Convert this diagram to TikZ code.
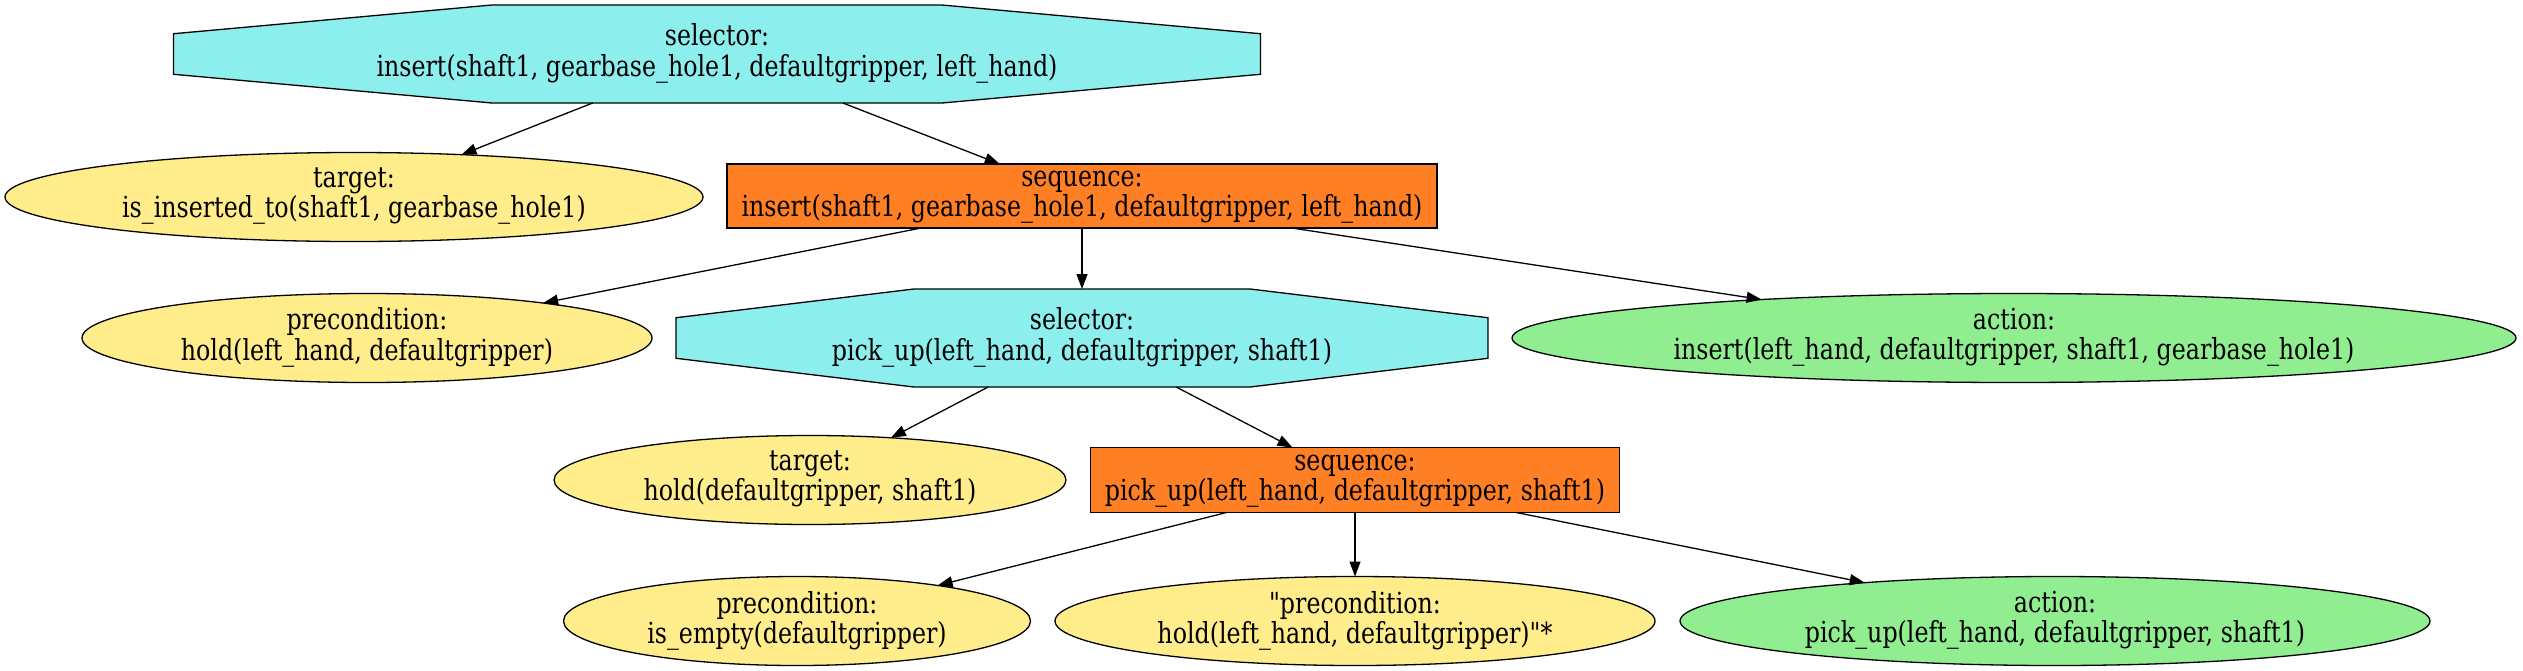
\documentclass[tikz,border=0pt]{standalone}
\usepackage{fontspec}
\setmainfont{DejaVu Serif}[Ligatures=TeXOff]
\usetikzlibrary{shapes.geometric,arrows.meta,calc,backgrounds}
\definecolor{selcol}{HTML}{8DEEEE}
\definecolor{seqcol}{HTML}{FF7F24}
\definecolor{yelcol}{HTML}{FFEC8B}
\definecolor{grncol}{HTML}{90EE90}
\newlength\refw
\newcommand{\nfont}{\fontsize{14.5}{13.35}\selectfont}
\newcommand{\lbl}[2]{\scalebox{\xf}[1]{\nfont\begin{tabular}{@{}c@{}}#1\\#2\end{tabular}}}
\newcommand{\octa}[1]{%
  \filldraw[fill=selcol,draw=black,line width=0.65pt]
    ($(#1.north west)!0.293!(#1.north east)$) --
    ($(#1.north west)!0.707!(#1.north east)$) --
    ($(#1.north east)!0.293!(#1.south east)$) --
    ($(#1.north east)!0.707!(#1.south east)$) --
    ($(#1.south west)!0.707!(#1.south east)$) --
    ($(#1.south west)!0.293!(#1.south east)$) --
    ($(#1.north west)!0.707!(#1.south west)$) --
    ($(#1.north west)!0.293!(#1.south west)$) -- cycle;}
\begin{document}%
\settowidth{\refw}{\nfont insert(shaft1, gearbase\_hole1, defaultgripper, left\_hand)}%
\pgfmathsetmacro{\xf}{340.5/\refw}%
\begin{tikzpicture}[x=0.5pt,y=-0.5pt,
  base/.style={inner sep=0pt,outer sep=0pt,line width=0.65pt},
  selnode/.style={base,shape=rectangle,draw=none},
  seqnode/.style={base,shape=rectangle,draw=black,fill=seqcol},
  condnode/.style={base,shape=ellipse,draw=black,fill=yelcol},
  actnode/.style={base,shape=ellipse,draw=black,fill=grncol},
  edge/.style={line width=0.65pt,-{Triangle[length=7.5pt,width=5.5pt]}}]
\useasboundingbox (0,0) rectangle (2523,670);
\node[selnode,minimum width=543.5pt,minimum height=49pt] (sel1) at (717,54)
  {\lbl{selector:}{insert(shaft1, gearbase\_hole1, defaultgripper, left\_hand)}};
\node[condnode,minimum width=349pt,minimum height=44.5pt] (tgt1) at (354,197)
  {\lbl{target:}{is\_inserted\_to(shaft1, gearbase\_hole1)}};
\node[seqnode,minimum width=355pt,minimum height=32pt] (seq1) at (1082,196)
  {\lbl{sequence:}{insert(shaft1, gearbase\_hole1, defaultgripper, left\_hand)}};
\node[condnode,minimum width=285pt,minimum height=44.5pt] (pre1) at (367,338)
  {\lbl{precondition:}{hold(left\_hand, defaultgripper)}};
\node[selnode,minimum width=406pt,minimum height=49pt] (sel2) at (1082,338)
  {\lbl{selector:}{pick\_up(left\_hand, defaultgripper, shaft1)}};
\node[actnode,minimum width=502pt,minimum height=44.5pt] (act1) at (2014,338)
  {\lbl{action:}{insert(left\_hand, defaultgripper, shaft1, gearbase\_hole1)}};
\node[condnode,minimum width=256pt,minimum height=44.5pt] (tgt2) at (810,480)
  {\lbl{target:}{hold(defaultgripper, shaft1)}};
\node[seqnode,minimum width=264.5pt,minimum height=32.5pt] (seq2) at (1355,480)
  {\lbl{sequence:}{pick\_up(left\_hand, defaultgripper, shaft1)}};
\node[condnode,minimum width=233.5pt,minimum height=44.5pt] (pre2) at (797,621)
  {\lbl{precondition:}{is\_empty(defaultgripper)}};
\node[condnode,minimum width=300pt,minimum height=44.5pt] (pre3) at (1355,621)
  {\lbl{"precondition:}{hold(left\_hand, defaultgripper)"*}};
\node[actnode,minimum width=375pt,minimum height=44.5pt] (act2) at (2055,621)
  {\lbl{action:}{pick\_up(left\_hand, defaultgripper, shaft1)}};
\begin{scope}[on background layer]
  \octa{sel1}
  \octa{sel2}
\end{scope}
\draw[edge] (sel1) -- (tgt1);
\draw[edge] (sel1) -- (seq1);
\draw[edge] (seq1) -- (pre1);
\draw[edge] (seq1) -- (sel2);
\draw[edge] (seq1) -- (act1);
\draw[edge] (sel2) -- (tgt2);
\draw[edge] (sel2) -- (seq2);
\draw[edge] (seq2) -- (pre2);
\draw[edge] (seq2) -- (pre3);
\draw[edge] (seq2) -- (act2);
\end{tikzpicture}%
\end{document}
